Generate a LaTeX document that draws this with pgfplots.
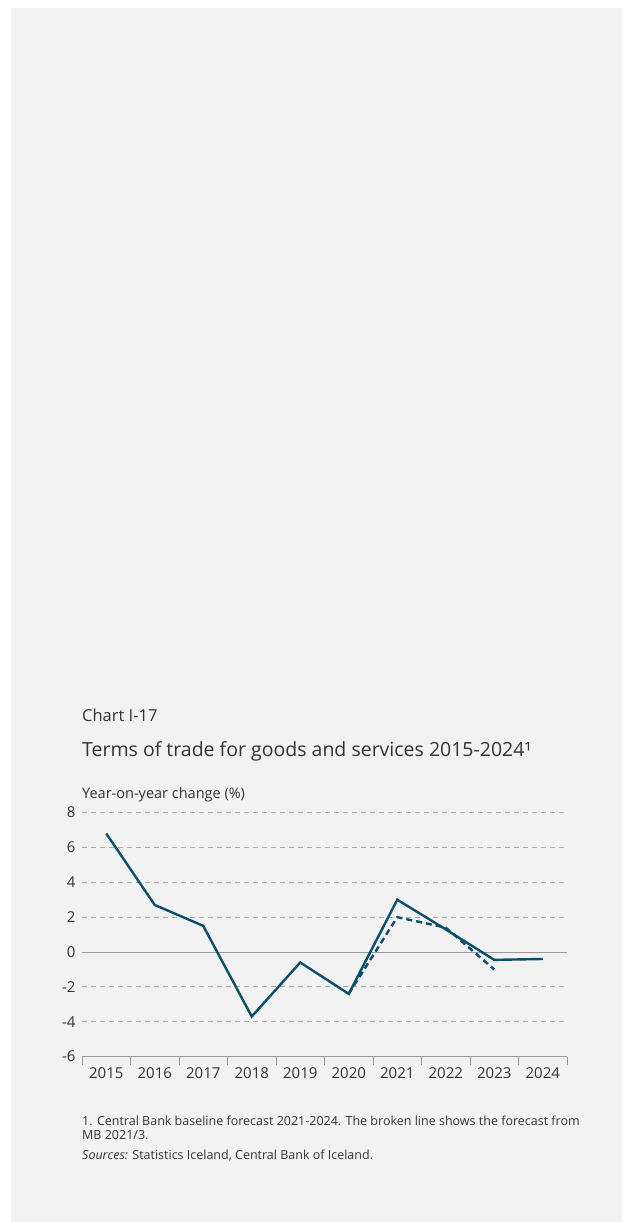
\documentclass[border=0pt]{standalone}
\usepackage{pgfplots}
\pgfplotsset{compat=1.18}
\usepackage{fontspec}
\setmainfont{Open Sans}
\definecolor{bg}{HTML}{F2F2F2}
\definecolor{linec}{HTML}{0B4F6C}
\definecolor{txt}{HTML}{333333}
\definecolor{gridc}{HTML}{AAAAAA}
\definecolor{axc}{HTML}{9A9A9A}
\begin{document}
\begin{tikzpicture}[x=1pt,y=1pt]
\fill[white] (0,0) rectangle (622,1222);
\fill[bg] (11,0) rectangle (622,1214);
\path[use as bounding box] (0,0) rectangle (622,1222);
\node[anchor=base west, inner sep=0, text=txt, font=\fontsize{16.5}{20}\selectfont] at (82,500) {Chart I-17};
\node[anchor=base west, inner sep=0, text=txt, font=\fontsize{19.5}{23}\selectfont] at (82,465.3) {Terms of trade for goods and services 2015-2024¹};
\node[anchor=base west, inner sep=0, text=txt, font=\fontsize{14.5}{17}\selectfont] at (82,423.3) {Year-on-year change (\%)};
\node[anchor=base west, inner sep=0, text=txt, font=\fontsize{12.5}{14}\selectfont] at (82,96) {1. Central Bank baseline forecast 2021-2024. The broken line shows the forecast from};
\node[anchor=base west, inner sep=0, text=txt, font=\fontsize{12.5}{14}\selectfont] at (82,82) {MB 2021/3.};
\node[anchor=base west, inner sep=0, text=txt, font=\fontsize{12.5}{14}\selectfont] at (82,62) {\textit{Sources:} Statistics Iceland, Central Bank of Iceland.};
\begin{axis}[
  at={(82pt,165.4pt)}, anchor=south west,
  scale only axis, width=485pt, height=244pt,
  xmin=-0.5, xmax=9.5, ymin=-6, ymax=8,
  axis line style={draw=none},
  xtick={0,...,9},
  xticklabels={2015,2016,2017,2018,2019,2020,2021,2022,2023,2024},
  minor xtick={-0.5,0.5,...,9.5},
  ytick={-6,-4,...,8},
  xtick pos=left, ytick pos=left,
  tick align=outside,
  major tick length=0pt, minor tick length=8pt,
  minor tick style={axc, line width=0.8pt},
  ymajorgrids,
  grid style={gridc, line width=0.8pt, dash pattern=on 5pt off 4pt},
  /pgf/number format/assume math mode=true,
  ticklabel style={text=txt, font=\fontsize{15}{18}\selectfont},
  yticklabel style={xshift=-3pt},
  xticklabel style={yshift=-7pt},
  clip=false,
]
\draw[axc, line width=0.8pt] (axis cs:-0.5,0) -- (axis cs:9.5,0);
\draw[axc, line width=0.8pt] (axis cs:-0.5,-6) -- (axis cs:9.5,-6);
\addplot[linec, line width=2.4pt, dash pattern=on 6pt off 4pt] coordinates {
(5,-2.4) (6,2.0) (7,1.4) (8,-1.0)};
\addplot[linec, line width=2.4pt] coordinates {
(0,6.8) (1,2.7) (2,1.5) (3,-3.7) (4,-0.6) (5,-2.4) (6,3.0) (7,1.3) (8,-0.45) (9,-0.4)};
\end{axis}
\end{tikzpicture}
\end{document}
